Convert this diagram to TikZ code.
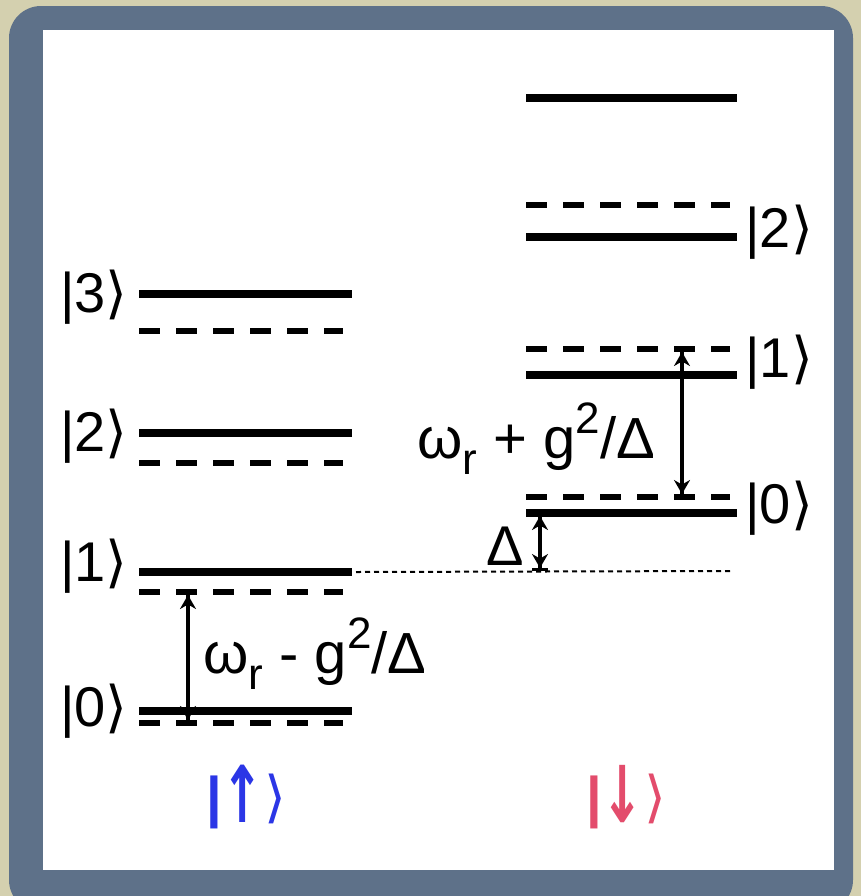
\documentclass[tikz,border=0pt]{standalone}
\usepackage{fontspec}
\setmainfont{Liberation Sans}
\newfontfamily\ketfont{DejaVu Sans}
\usetikzlibrary{arrows.meta}
\definecolor{framebg}{HTML}{D4D0AF}
\definecolor{frameslate}{HTML}{5E7189}
\definecolor{spinup}{HTML}{2B36E6}
\definecolor{spindown}{HTML}{E34C6C}
\newcommand{\ket}[1]{|#1{\ketfont ⟩}}
\newcommand{\spinket}[1]{{\bfseries|}\raisebox{-0.1em}{\scalebox{0.9}[1.4]{\ketfont\bfseries #1}}{\ketfont ⟩}}
\newcommand{\lsub}[1]{\raisebox{-0.28em}{\fontsize{22}{22}\selectfont #1}}
\newcommand{\lsup}[1]{\raisebox{0.42em}{\fontsize{22}{22}\selectfont #1}}

\begin{document}
\begin{tikzpicture}[x=0.5pt, y=-0.5pt,
    level/.style={line width=3.8pt},
    virt/.style={line width=2.6pt, dash pattern=on 10.5pt off 8pt},
    bare/.style={line width=1pt, dash pattern=on 2.5pt off 2pt},
    gap/.style={line width=2pt,
      {Bar[width=8pt,line width=1.5pt]Stealth[length=7pt,width=8pt]}-{Stealth[length=7pt,width=8pt]Bar[width=8pt,line width=1.5pt]}},
    ket/.style={font=\fontsize{28}{30}\selectfont, inner sep=0pt},
    shiftlabel/.style={font=\fontsize{29}{30}\selectfont, inner sep=0pt},
    spinlabel/.style={font=\fontsize{28}{30}\selectfont, inner sep=0pt}
  ]
    % frame
    \useasboundingbox (0,0) rectangle (861,896);
    \clip (0,0) rectangle (861,896);
    \fill[framebg] (0,0) rectangle (861,896);
    \fill[frameslate, rounded corners=16pt] (9,6) rectangle (853,912);
    \fill[white] (43,30) rectangle (834,870);

    % spin up ladder
    \draw[level] (139,294) -- (352,294);
    \draw[virt] (139,331) -- (343,331);
    \draw[level] (139,433) -- (352,433);
    \draw[virt] (139,463) -- (343,463);
    \draw[level] (139,572) coordinate (u1a) -- (352,572) coordinate (u1b);
    \draw[virt] (139,592) -- (343,592);
    \draw[level] (139,711) -- (352,711);
    \draw[virt] (139,723) -- (343,723);

    % spin down ladder
    \draw[level] (526,98) -- (737,98);
    \draw[virt] (526,205) -- (730,205);
    \draw[level] (526,237) -- (737,237);
    \draw[virt] (526,349) -- (730,349);
    \draw[level] (526,375) -- (737,375);
    \draw[virt] (526,497) -- (730,497);
    \draw[level] (526,513) coordinate (d0a) -- (737,513);
    \coordinate (bare0) at (730,571);
    \draw[bare] (u1b) ++(4,0) -- (bare0);

    \coordinate (u0v) at (188,723);
    \coordinate (u1v) at (188,592);
    \coordinate (d1v) at (682,349);
    \coordinate (d0v) at (682,497);
    \coordinate (dtop) at (540,513);
    \coordinate (dbot) at (540,571);

    \node[ket, anchor=east] (up3) at (128,297) {\ket{3}};
    \node[ket, anchor=east] (up2) at (128,436) {\ket{2}};
    \node[ket, anchor=east] (up1) at (128,566) {\ket{1}};
    \node[ket, anchor=east] (up0) at (128,711) {\ket{0}};
    \node[ket, anchor=west] (dn2) at (745,232) {\ket{2}};
    \node[ket, anchor=west] (dn1) at (745,362) {\ket{1}};
    \node[ket, anchor=west] (dn0) at (745,508) {\ket{0}};

    \draw[gap] (u0v) -- (u1v);
    \draw[gap] (d1v) -- (d0v);
    \draw[gap] (dtop) -- (dbot);

    \node[shiftlabel, anchor=base west] (wminus) at (203,673) {ω\lsub{r} - g\lsup{2}/Δ};
    \node[shiftlabel, anchor=base west] (wplus) at (417,458) {ω\lsub{r} + g\lsup{2}/Δ};
    \node[ket, anchor=base east] (delta) at (524,565) {Δ};

    \node[spinlabel, text=spinup] (spinupket) at (246,797) {\spinket{↑}};
    \node[spinlabel, text=spindown] (spindownket) at (626,797) {\spinket{↓}};
  \end{tikzpicture}
\end{document}
